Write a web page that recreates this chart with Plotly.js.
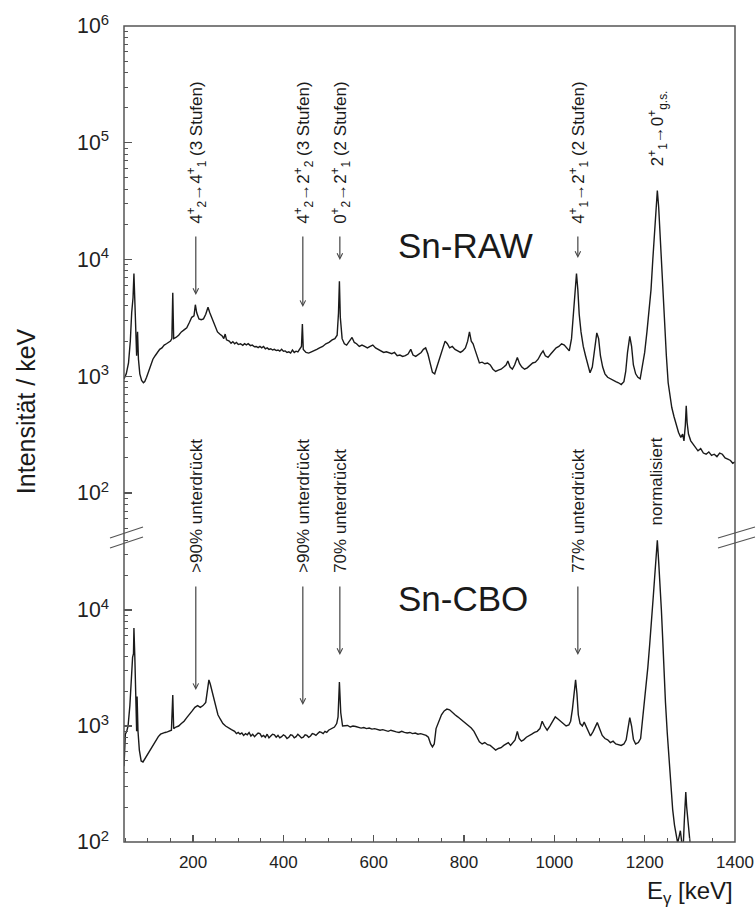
<!DOCTYPE html>
<html>
<head>
<meta charset="utf-8">
<script src="https://cdn.plot.ly/plotly-3.0.1.min.js"></script>
<style>
  html, body { margin: 0; padding: 0; background: #fff; }
  #chart { width: 756px; height: 908px; }
</style>
</head>
<body>
<div id="chart"></div>
<script>
// Gamma spectrum, Sn target: raw data and after CBO suppression.
// Each row: [E_gamma in keV, intensity per keV]
const snRaw = [
  [47, 950], [52, 1050], [57, 1300], [61, 2000], [64, 3500], [67, 4700], [69, 7600],
  [71, 4500], [73, 2200], [75, 1500], [77, 2400], [79, 1400], [82, 1050], [86, 920],
  [90, 880], [93, 900], [97, 980], [101, 1080], [106, 1200], [111, 1400], [116, 1500],
  [121, 1600], [126, 1700], [131, 1750], [136, 1850], [141, 1900], [146, 1950],
  [150, 2000], [153, 2100], [155, 5200], [157, 2100], [162, 2150], [168, 2250],
  [174, 2400], [180, 2500], [186, 2600], [192, 2900], [197, 3200], [202, 3300],
  [205, 4100], [208, 3500], [213, 3100], [218, 3050], [223, 3100], [228, 3400],
  [233, 3900], [237, 3500], [241, 3200], [245, 2900], [250, 2600], [254, 2400],
  [259, 2300], [265, 2200], [268, 2100], [271, 2300], [274, 2050], [280, 2000],
  [284, 1920], [288, 1980], [292, 1900], [296, 1950], [300, 1870], [305, 1900],
  [310, 1840], [314, 1900], [318, 1860], [322, 1900], [327, 1830], [331, 1850],
  [336, 1790], [340, 1800], [344, 1760], [348, 1800], [352, 1750], [356, 1800],
  [360, 1720], [364, 1750], [368, 1700], [372, 1720], [376, 1680], [380, 1700],
  [384, 1660], [388, 1680], [392, 1640], [396, 1700], [400, 1640], [404, 1650],
  [408, 1600], [412, 1620], [416, 1580], [420, 1680], [424, 1600], [428, 1640],
  [432, 1620], [436, 1700], [440, 1800], [442, 2800], [444, 1700], [450, 1600], [456, 1580],
  [462, 1620], [468, 1650], [474, 1700], [480, 1750], [487, 1800], [494, 1900],
  [501, 1950], [508, 2050], [514, 2100], [519, 2250], [522, 3500], [524, 6500],
  [526, 3200], [530, 2100], [535, 1900], [540, 1850], [546, 2000], [552, 2150],
  [557, 1950], [562, 1900], [568, 1800], [574, 1850], [580, 1800], [586, 1750],
  [592, 1800], [598, 1850], [604, 1750], [610, 1700], [616, 1650], [622, 1600],
  [628, 1620], [634, 1580], [640, 1560], [646, 1600], [652, 1500], [658, 1520],
  [664, 1480], [670, 1500], [676, 1550], [682, 1700], [687, 1520], [693, 1480],
  [699, 1550], [705, 1600], [710, 1700], [715, 1750], [720, 1550], [726, 1250],
  [730, 1080], [735, 1050], [740, 1200], [746, 1400], [752, 1650], [758, 2000],
  [763, 1900], [768, 1750], [774, 1800], [780, 1700], [786, 1650], [792, 1600],
  [797, 1650], [803, 1750], [808, 2000], [812, 2400], [816, 2000], [820, 1900],
  [824, 1700], [829, 1500], [834, 1300], [840, 1320], [846, 1280], [852, 1300],
  [858, 1250], [864, 1150], [870, 1100], [876, 1130], [882, 1150], [888, 1200],
  [893, 1250], [897, 1350], [902, 1200], [907, 1150], [912, 1250], [918, 1450],
  [923, 1280], [928, 1200], [934, 1150], [940, 1180], [946, 1250], [952, 1300],
  [958, 1320], [964, 1400], [970, 1550], [975, 1650], [980, 1500], [986, 1450],
  [992, 1550], [998, 1650], [1004, 1750], [1010, 1800], [1016, 1900], [1022, 1850],
  [1028, 1750], [1033, 1650], [1038, 2100], [1042, 3300], [1046, 6000], [1049, 7600],
  [1052, 5500], [1055, 3400], [1059, 2400], [1064, 1800], [1069, 1500], [1074, 1250],
  [1079, 1070], [1084, 1200], [1089, 1700], [1094, 2350], [1098, 2100], [1102, 1500],
  [1107, 1200], [1112, 1050], [1118, 980], [1124, 950], [1130, 920], [1136, 900],
  [1142, 880], [1148, 850], [1154, 900], [1158, 1100], [1162, 1600], [1167, 2200],
  [1171, 1800], [1175, 1250], [1180, 1050], [1185, 980], [1190, 950], [1195, 1200],
  [1200, 1600], [1205, 2400], [1210, 3800], [1214, 5500], [1218, 10000], [1221, 15500],
  [1224, 24000], [1228, 39000], [1231, 28000], [1234, 16000], [1237, 9000], [1240, 5000],
  [1244, 2800], [1248, 1500], [1252, 880], [1256, 650], [1260, 540], [1265, 450],
  [1270, 380], [1275, 330], [1280, 300], [1284, 320], [1287, 280], [1290, 380],
  [1292, 560], [1294, 400], [1297, 320], [1302, 280], [1308, 260], [1313, 245],
  [1318, 230], [1324, 240], [1330, 220], [1336, 215], [1342, 225], [1348, 210],
  [1354, 215], [1360, 205], [1366, 220], [1372, 215], [1378, 200], [1384, 195],
  [1390, 190], [1395, 180], [1400, 185]
];

const snCbo = [
  [47, 450], [50, 850], [53, 900], [56, 1000], [60, 1500], [63, 2700], [66, 3900],
  [68, 4200], [69, 7000], [71, 3900], [73, 1900], [75, 900], [76, 1800], [78, 900],
  [81, 620], [85, 500], [89, 490], [93, 520], [98, 560], [103, 610], [108, 660],
  [113, 710], [118, 760], [123, 810], [128, 850], [133, 870], [138, 880], [143, 890],
  [148, 900], [152, 920], [155, 1850], [157, 950], [162, 980], [168, 1000], [174, 1050],
  [180, 1100], [186, 1180], [192, 1250], [198, 1350], [204, 1450], [210, 1500],
  [216, 1450], [222, 1500], [228, 1600], [232, 2000], [235, 2500], [238, 2300],
  [242, 2000], [246, 1700], [250, 1450], [255, 1250], [260, 1150], [266, 1050],
  [272, 1000], [278, 960], [285, 930], [292, 900], [296, 860], [300, 880], [304, 850],
  [308, 870], [312, 830], [316, 860], [320, 840], [324, 880], [328, 820], [332, 850],
  [336, 810], [340, 840], [344, 870], [348, 860], [352, 810], [356, 830], [360, 800],
  [364, 850], [368, 790], [372, 820], [376, 850], [380, 840], [384, 800], [388, 830],
  [392, 790], [396, 810], [400, 840], [404, 820], [408, 780], [412, 800], [416, 840],
  [420, 830], [424, 790], [428, 810], [432, 850], [436, 820], [440, 790], [444, 800],
  [448, 840], [452, 830], [456, 800], [460, 820], [464, 860], [468, 850], [472, 830],
  [476, 860], [480, 890], [484, 880], [488, 860], [492, 900], [496, 880], [500, 920],
  [507, 950], [513, 980], [518, 1050], [521, 1200], [524, 2400],
  [527, 1300], [531, 1000], [536, 1000], [542, 1010], [548, 980], [554, 1000],
  [560, 990], [566, 970], [572, 960], [578, 970], [584, 950], [590, 960], [596, 940],
  [602, 950], [608, 930], [614, 920], [620, 930], [626, 910], [632, 900], [638, 920],
  [644, 900], [650, 890], [656, 880], [662, 900], [668, 880], [674, 870], [680, 880],
  [686, 860], [692, 870], [698, 850], [704, 860], [710, 850], [716, 830], [721, 800],
  [726, 700], [730, 660], [734, 700], [738, 950], [744, 1100], [750, 1250], [756, 1350],
  [762, 1400], [768, 1380], [774, 1300], [780, 1250], [786, 1200], [792, 1150],
  [798, 1100], [804, 1050], [810, 1000], [816, 960], [822, 900], [828, 820], [834, 730],
  [840, 700], [846, 720], [852, 690], [858, 680], [864, 650], [870, 620], [876, 640],
  [882, 650], [888, 680], [893, 700], [898, 720], [903, 680], [908, 720], [913, 760],
  [918, 900], [922, 780], [927, 740], [932, 760], [938, 800], [944, 820], [950, 850],
  [956, 880], [962, 900], [968, 950], [973, 1100], [978, 1000], [984, 920], [990, 1000],
  [996, 1100], [1002, 1200], [1008, 1150], [1014, 1100], [1020, 1050], [1026, 1000],
  [1032, 1020], [1036, 1100], [1040, 1400], [1044, 2000], [1047, 2500], [1050, 1900],
  [1053, 1250], [1057, 1050], [1062, 1000], [1066, 1080], [1070, 1000], [1075, 880],
  [1080, 820], [1086, 900], [1091, 1000], [1095, 1070], [1100, 950], [1106, 830],
  [1112, 780], [1118, 760], [1124, 720], [1130, 740], [1136, 700], [1142, 690],
  [1148, 680], [1154, 700], [1159, 760], [1163, 950], [1167, 1180], [1171, 1000],
  [1175, 770], [1180, 700], [1186, 720], [1191, 780], [1195, 1100], [1199, 1500],
  [1203, 2200], [1207, 3200], [1211, 5000], [1215, 7500], [1219, 13000], [1222, 19000],
  [1225, 28000], [1228, 40000], [1231, 26000], [1234, 17000], [1237, 10000],
  [1240, 5500], [1243, 2800], [1246, 1600], [1250, 870], [1254, 500], [1258, 280],
  [1262, 190], [1266, 140], [1270, 115], [1273, 98], [1276, 110], [1279, 125],
  [1282, 100], [1285, 85], [1288, 160], [1291, 270], [1293, 200], [1296, 140],
  [1299, 110], [1302, 85], [1306, 70], [1312, 60], [1320, 55]
];

// Transition labels (upper panel) and suppression labels (lower panel)
const markerEnergy = [206, 443, 525, 1052];
const rawLabels = [
  '4<sup>+</sup><sub>2</sub>→4<sup>+</sup><sub>1</sub> (3 Stufen)',
  '4<sup>+</sup><sub>2</sub>→2<sup>+</sup><sub>2</sub> (3 Stufen)',
  '0<sup>+</sup><sub>2</sub>→2<sup>+</sup><sub>1</sub> (2 Stufen)',
  '4<sup>+</sup><sub>1</sub>→2<sup>+</sup><sub>1</sub> (2 Stufen)'
];
const cboLabels = ['&gt;90% unterdrückt', '&gt;90% unterdrückt', '70% unterdrückt', '77% unterdrückt'];
const mainLineEnergy = 1230;
const mainRawLabel = '2<sup>+</sup><sub>1</sub>→0<sup>+</sup><sub>g.s.</sub>';
const mainCboLabel = 'normalisiert';
// arrow tips (log10 intensity) and arrow lengths in px
const rawArrowTip = [3.696, 3.593, 3.996, 4.013];
const rawArrowLen = [60, 72, 25, 23];
const cboArrowTip = [3.310, 3.181, 3.612, 3.612];
const cboArrowLen = [105, 120, 70, 70];

const FONT = 'Liberation Sans, Arial, Helvetica, sans-serif';
const INK = '#1a1a1a';
const AXIS = '#555';

const traces = [
  {
    x: snRaw.map(r => r[0]), y: snRaw.map(r => r[1]),
    xaxis: 'x', yaxis: 'y2', type: 'scatter', mode: 'lines',
    line: { color: INK, width: 1.4 }, hoverinfo: 'skip', showlegend: false
  },
  {
    x: snCbo.map(r => r[0]), y: snCbo.map(r => r[1]),
    xaxis: 'x', yaxis: 'y', type: 'scatter', mode: 'lines',
    line: { color: INK, width: 1.4 }, hoverinfo: 'skip', showlegend: false
  }
];

const SPLIT = 0.3725;

function logAxis(range, domain) {
  return {
    type: 'log', range: range, domain: domain, anchor: 'x',
    dtick: 1, exponentformat: 'power', showexponent: 'all',
    ticks: 'inside', ticklen: 8, tickwidth: 1.2, tickcolor: AXIS,
    minor: { ticks: 'inside', ticklen: 4, tickwidth: 1, tickcolor: AXIS, dtick: 'D1', showgrid: false },
    showline: false, showgrid: false, zeroline: false,
    tickfont: { family: FONT, size: 17, color: '#222' },
    ticklabelstandoff: 14
  };
}

const annotations = [];
const textFont = { family: FONT, size: 17, color: INK };

markerEnergy.forEach((e, i) => {
  annotations.push({
    xref: 'x', yref: 'paper', x: e, y: 0.7549, text: rawLabels[i],
    textangle: -90, xanchor: 'center', yanchor: 'bottom', showarrow: false, font: textFont
  });
  annotations.push({
    xref: 'x', yref: 'y2', x: e, y: rawArrowTip[i], text: '',
    showarrow: true, ax: 0, ay: -rawArrowLen[i], arrowhead: 5, arrowsize: 0.9,
    arrowwidth: 1.2, arrowcolor: '#444', standoff: 0
  });
  annotations.push({
    xref: 'x', yref: 'paper', x: e, y: 0.3272, text: cboLabels[i],
    textangle: -90, xanchor: 'center', yanchor: 'bottom', showarrow: false, font: textFont
  });
  annotations.push({
    xref: 'x', yref: 'y', x: e, y: cboArrowTip[i], text: '',
    showarrow: true, ax: 0, ay: -cboArrowLen[i], arrowhead: 5, arrowsize: 0.9,
    arrowwidth: 1.2, arrowcolor: '#444', standoff: 0
  });
});

annotations.push({
  xref: 'x', yref: 'paper', x: mainLineEnergy, y: 0.826, text: mainRawLabel,
  textangle: -90, xanchor: 'center', yanchor: 'bottom', showarrow: false, font: textFont
});
annotations.push({
  xref: 'x', yref: 'paper', x: mainLineEnergy - 4, y: 0.386, text: mainCboLabel,
  textangle: -90, xanchor: 'center', yanchor: 'bottom', showarrow: false, font: textFont
});

// panel names
annotations.push({
  xref: 'x', yref: 'paper', x: 650, y: 0.7304, text: 'Sn-RAW',
  xanchor: 'left', yanchor: 'middle', showarrow: false,
  font: { family: FONT, size: 35, color: INK }
});
annotations.push({
  xref: 'x', yref: 'paper', x: 650, y: 0.299, text: 'Sn-CBO',
  xanchor: 'left', yanchor: 'middle', showarrow: false,
  font: { family: FONT, size: 35, color: INK }
});

// axis titles
annotations.push({
  xref: 'paper', yref: 'paper', x: -0.1604, y: 0.528, text: 'Intensität / keV',
  textangle: -90, xanchor: 'center', yanchor: 'middle', showarrow: false,
  font: { family: FONT, size: 25, color: INK }
});
annotations.push({
  xref: 'paper', yref: 'paper', x: 1.0, y: -0.0613, text: 'E<sub>γ</sub> [keV]',
  xanchor: 'right', yanchor: 'middle', showarrow: false,
  font: { family: FONT, size: 24, color: INK }
});

const shapes = [
  // frame around both panels
  { type: 'rect', xref: 'paper', yref: 'paper', x0: 0, x1: 1, y0: 0, y1: 1,
    line: { color: AXIS, width: 1.5 } },
  // axis break marks
  { type: 'line', xref: 'paper', yref: 'paper', x0: -0.0229, x1: 0.0311, y0: 0.3725, y1: 0.386,
    line: { color: AXIS, width: 1.2 } },
  { type: 'line', xref: 'paper', yref: 'paper', x0: -0.0229, x1: 0.0311, y0: 0.3603, y1: 0.3738,
    line: { color: AXIS, width: 1.2 } },
  { type: 'line', xref: 'paper', yref: 'paper', x0: 0.9722, x1: 1.0327, y0: 0.3725, y1: 0.386,
    line: { color: AXIS, width: 1.2 } },
  { type: 'line', xref: 'paper', yref: 'paper', x0: 0.9722, x1: 1.0327, y0: 0.3603, y1: 0.3738,
    line: { color: AXIS, width: 1.2 } }
];

const layout = {
  width: 756, height: 908,
  margin: { l: 124, r: 21, t: 26, b: 66 },
  paper_bgcolor: '#fff', plot_bgcolor: '#fff',
  showlegend: false,
  xaxis: {
    range: [47, 1400], anchor: 'y', domain: [0, 1],
    tickmode: 'linear', tick0: 0, dtick: 200,
    ticks: 'inside', ticklen: 7, tickwidth: 1.2, tickcolor: AXIS,
    minor: { ticks: 'inside', ticklen: 4, tickwidth: 1, tickcolor: AXIS, dtick: 50, showgrid: false },
    showline: false, showgrid: false, zeroline: false,
    tickfont: { family: FONT, size: 17, color: '#222' },
    ticklabelstandoff: 8
  },
  yaxis: logAxis([2, 4.6207], [0, SPLIT]),
  yaxis2: logAxis([1.6146, 6], [SPLIT, 1]),
  annotations: annotations,
  shapes: shapes
};

Plotly.newPlot('chart', traces, layout, { staticPlot: true, displayModeBar: false });
</script>
</body>
</html>
